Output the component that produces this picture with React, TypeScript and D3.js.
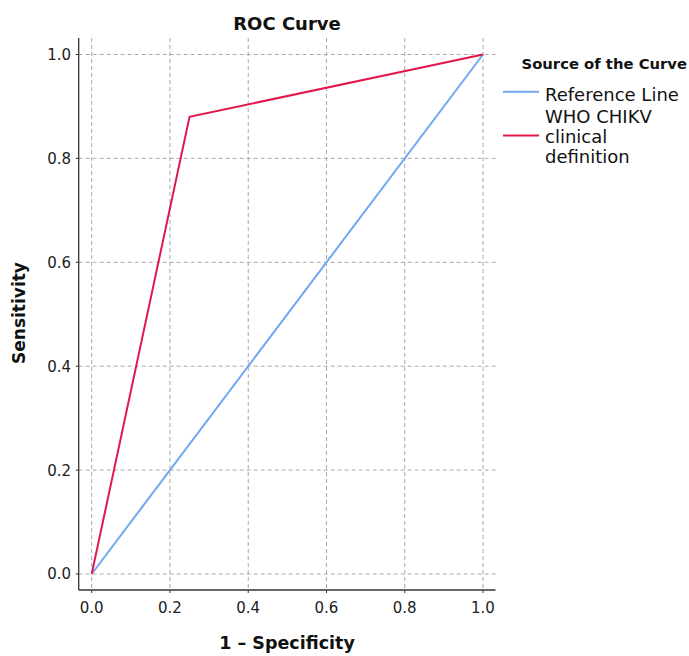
import React from "react";
import * as d3 from "d3";

const refX = [0, 1];
const refY = [0, 1];
const curveX = [0, 0.25, 1];
const curveY = [0, 0.88, 1];
const xTicks = [0, 0.2, 0.4, 0.6, 0.8, 1.0];
const yTicks = [0, 0.2, 0.4, 0.6, 0.8, 1.0];
const legendLabels = ["Reference Line", "WHO CHIKV\nclinical\ndefinition"];
const colors = ["#6fa8ef", "#e2184b"];

const W = 689;
const H = 656;
const font = "'DejaVu Sans', sans-serif";

export default function App() {
  const x = d3.scaleLinear().domain([0, 1]).range([91.7, 483]);
  const y = d3.scaleLinear().domain([0, 1]).range([574, 54.5]);
  const axisLeft = 78.7;
  const axisBottom = 590;
  const plotTop = 38;
  const plotRight = 495.5;
  const line = d3
    .line<[number, number]>()
    .x((d) => x(d[0]))
    .y((d) => y(d[1]));
  const refPts = refX.map((v, i) => [v, refY[i]] as [number, number]);
  const curvePts = curveX.map((v, i) => [v, curveY[i]] as [number, number]);
  const series = [refPts, curvePts];

  return (
    <svg
      width={W}
      height={H}
      style={{ position: "absolute", left: 0, top: 0, background: "#fff" }}
      fontFamily={font}
    >
      <rect width={W} height={H} fill="#fff" />
      {/* grid */}
      {xTicks.map((t) => (
        <line
          key={"gx" + t}
          x1={x(t)}
          x2={x(t)}
          y1={plotTop}
          y2={axisBottom}
          stroke="#a8a8a8"
          strokeWidth={1}
          strokeDasharray="4,3"
        />
      ))}
      {yTicks.map((t) => (
        <line
          key={"gy" + t}
          x1={axisLeft}
          x2={plotRight}
          y1={y(t)}
          y2={y(t)}
          stroke="#a8a8a8"
          strokeWidth={1}
          strokeDasharray="4,3"
        />
      ))}
      {/* axes */}
      <line x1={axisLeft} x2={axisLeft} y1={plotTop} y2={axisBottom} stroke="#333" strokeWidth={1.3} />
      <line x1={axisLeft} x2={plotRight} y1={axisBottom} y2={axisBottom} stroke="#333" strokeWidth={1.3} />
      {yTicks.map((t) => (
        <g key={"ty" + t}>
          <line x1={axisLeft - 3} x2={axisLeft} y1={y(t)} y2={y(t)} stroke="#333" />
          <text x={71} y={y(t)} dy="0.36em" textAnchor="end" fontSize={15} fill="#222">
            {d3.format(".1f")(t)}
          </text>
        </g>
      ))}
      {xTicks.map((t) => (
        <g key={"tx" + t}>
          <line x1={x(t)} x2={x(t)} y1={axisBottom} y2={axisBottom + 3} stroke="#333" />
          <text x={x(t)} y={613} textAnchor="middle" fontSize={15} fill="#222">
            {d3.format(".1f")(t)}
          </text>
        </g>
      ))}
      {/* lines */}
      {series.map((pts, i) => (
        <path key={"s" + i} d={line(pts) || ""} fill="none" stroke={colors[i]} strokeWidth={2} />
      ))}
      {/* titles */}
      <text x={287} y={30} textAnchor="middle" fontSize={18} fontWeight="bold" fill="#111">
        ROC Curve
      </text>
      <text x={287} y={649} textAnchor="middle" fontSize={17.5} fontWeight="bold" fill="#111">
        1 – Specificity
      </text>
      <text
        transform="translate(25,313) rotate(-90)"
        textAnchor="middle"
        fontSize={17}
        fontWeight="bold"
        fill="#111"
      >
        Sensitivity
      </text>
      {/* legend */}
      <text x={521.5} y={69} fontSize={14.8} fontWeight="bold" fill="#111">
        Source of the Curve
      </text>
      {legendLabels.map((lab, i) => {
        const ly = i === 0 ? 91.7 : 135.5;
        const lines = lab.split("\n");
        const firstBaseline = i === 0 ? 100.7 : 122.7;
        return (
          <g key={"lg" + i}>
            <line x1={503} x2={539} y1={ly} y2={ly} stroke={colors[i]} strokeWidth={2} />
            <text fontSize={18} fill="#111">
              {lines.map((l, j) => (
                <tspan key={j} x={545} y={firstBaseline + j * 20.3}>
                  {l}
                </tspan>
              ))}
            </text>
          </g>
        );
      })}
    </svg>
  );
}
